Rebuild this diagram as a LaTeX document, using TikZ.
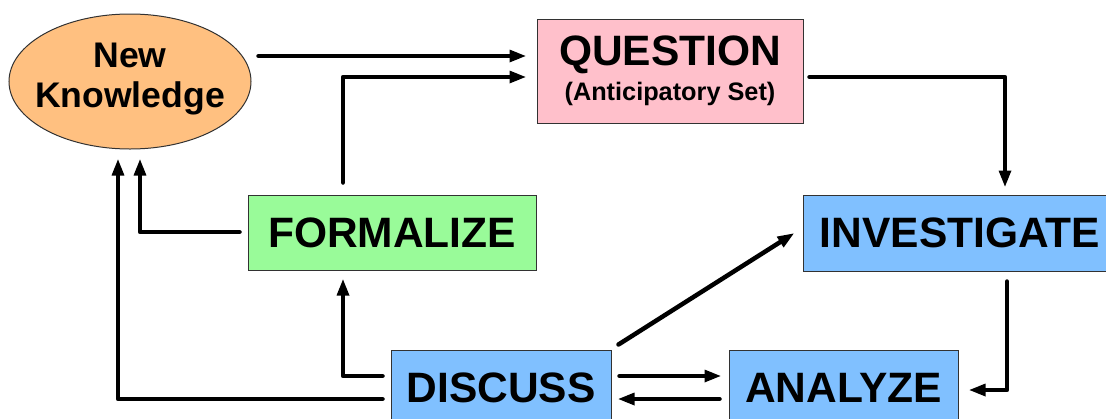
\documentclass[tikz,border=0pt]{standalone}
\usepackage{fontspec}
\setmainfont{Liberation Sans}
\usetikzlibrary{arrows.meta,shapes.geometric,calc}
\definecolor{nkorange}{RGB}{255,192,128}
\definecolor{qpink}{RGB}{255,192,203}
\definecolor{fgreen}{RGB}{153,251,153}
\definecolor{bblue}{RGB}{128,192,255}
\definecolor{edgegray}{RGB}{50,50,50}
\begin{document}
\begin{tikzpicture}[x=1pt,y=-1pt,
  box/.style={draw=edgegray,line width=1pt,rectangle,inner sep=0pt,font=\bfseries\fontsize{42.5}{42.5}\selectfont},
  arr/.style={line width=4.5pt,line cap=round,line join=round,-{Triangle[length=17pt,width=11.5pt]}}
]
\clip (0,0) rectangle (1106,418);
\node[ellipse,draw=edgegray,line width=1pt,fill=nkorange,minimum width=242pt,minimum height=135pt,inner sep=0pt] (NK) at (130,81.5) {};
\node[align=center,inner sep=0pt,font=\bfseries\fontsize{35.6}{40}\selectfont] (NKtext) at ($(NK.center)+(0,-2)$) {New\\Knowledge};
\node[box,fill=qpink,minimum width=266pt,minimum height=104pt,align=center,font=\bfseries\fontsize{42.5}{35}\selectfont] (Q) at (670,71) {QUESTION\\{\fontsize{25.3}{35}\selectfont (Anticipatory Set)}};
\node[box,fill=fgreen,minimum width=288pt,minimum height=75pt] (F) at (392,232.5) {FORMALIZE};
\node[box,fill=bblue,minimum width=314pt,minimum height=76pt] (I) at (960,233) {INVESTIGATE};
\node[box,fill=bblue,minimum width=220pt,minimum height=76pt] (D) at (501,388) {DISCUSS};
\node[box,fill=bblue,minimum width=229pt,minimum height=76pt] (A) at (843.5,388) {ANALYZE};

\draw[arr,shorten <=7pt,shorten >=10pt] (NK.east |- 0,56) -- (Q.west |- 0,56);
\draw[arr,shorten <=12pt,shorten >=10pt] (F.north -| 343,0) |- (Q.west |- 0,77);
\draw[arr,shorten <=6pt,shorten >=7pt] (Q.east |- 0,77) -| (I.north -| 1005,0);
\draw[arr,shorten <=10pt,shorten >=10pt] (I.south -| 1007,0) |- (A.east |- 0,390);
\draw[arr] ($(D.north east)+(7,-5)$) -- ($(I.west)+(-8,0)$);
\draw[arr,shorten <=8pt,shorten >=7pt] (D.east |- 0,376) -- (A.west |- 0,376);
\draw[arr,shorten <=9pt,shorten >=6pt] (A.west |- 0,399) -- (D.east |- 0,399);
\draw[arr,shorten <=8pt,shorten >=8pt] (D.west |- 0,376) -| (F.south -| 343,0);
\draw[arr,shorten <=8pt,shorten >=9pt] (D.west |- 0,399) -| (NK.south -| 118,0);
\draw[arr,shorten <=8pt,shorten >=9pt] (F.west |- 0,232) -| (NK.south -| 140,0);
\end{tikzpicture}
\end{document}
